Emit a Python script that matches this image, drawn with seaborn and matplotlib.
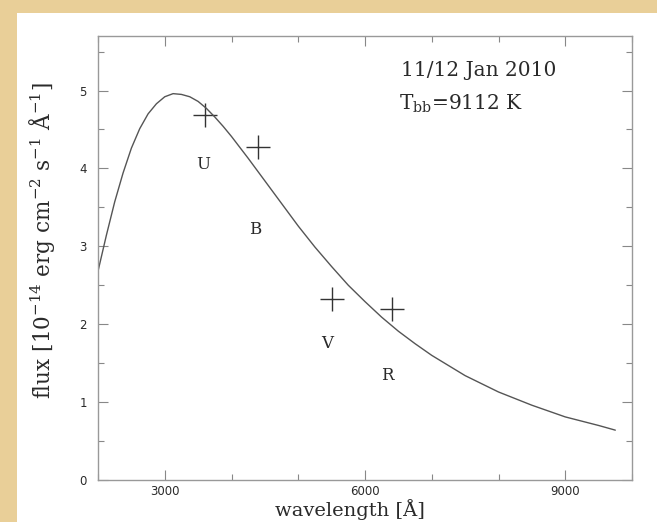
import matplotlib
import pandas as pd

matplotlib.use('Agg')
import matplotlib.pyplot as plt
import seaborn as sns
from matplotlib.patches import Rectangle
from matplotlib.ticker import MultipleLocator

# blackbody model curve
wavelength = [2000, 2125, 2250, 2375, 2500, 2625, 2750, 2875, 3000, 3125, 3250, 3375,
              3500, 3625, 3750, 3875, 4000, 4250, 4500, 4750, 5000, 5250, 5500, 5750,
              6000, 6250, 6500, 6750, 7000, 7500, 8000, 8500, 9000, 9500, 9750]
model_flux = [2.68, 3.14, 3.57, 3.94, 4.26, 4.51, 4.70, 4.83, 4.92, 4.96, 4.95, 4.92,
              4.86, 4.77, 4.66, 4.54, 4.41, 4.13, 3.84, 3.55, 3.26, 2.99, 2.74, 2.50,
              2.29, 2.09, 1.91, 1.75, 1.60, 1.34, 1.13, 0.96, 0.81, 0.70, 0.64]

# photometry points
bands = ["U", "B", "V", "R"]
band_wave = [3600, 4400, 5500, 6400]
band_flux = [4.69, 4.27, 2.33, 2.19]
label_wave = [3580, 4350, 5430, 6340]
label_flux = [4.05, 3.22, 1.75, 1.34]

sns.set_style("ticks")
plt.rcParams['mathtext.fontset'] = 'dejavuserif'

fig = plt.figure(figsize=(6.57, 5.22), dpi=100)
fig.patch.set_facecolor("#e9cf98")
fig.patches.append(Rectangle((17 / 657, 0), 1, 1 - 13 / 522, transform=fig.transFigure,
                             facecolor="white", edgecolor="none", zorder=-10))
ax = fig.add_axes([98 / 657, 1 - 480 / 522, (632 - 98) / 657, (480 - 36) / 522])
ax.set_facecolor("white")

curve = pd.DataFrame({"wavelength": wavelength, "flux": model_flux})
pts = pd.DataFrame({"wavelength": band_wave, "flux": band_flux})

sns.lineplot(data=curve, x="wavelength", y="flux", ax=ax, color="#555555", linewidth=1.0)
sns.scatterplot(data=pts, x="wavelength", y="flux", ax=ax, marker="+", s=300,
                color="#333333", linewidth=1.0)

txt = "#2a2a2a"
for b, xw, yf in zip(bands, label_wave, label_flux):
    ax.text(xw, yf, b, ha="center", va="center", fontsize=12, family="DejaVu Serif", color=txt)

ax.text(0.712, 0.923, "11/12 Jan 2010", transform=ax.transAxes, ha="center", va="center",
        fontsize=14.5, family="DejaVu Serif", color=txt)
ax.text(0.68, 0.847, r"T$_{\mathrm{bb}}$=9112 K", transform=ax.transAxes, ha="center", va="center",
        fontsize=14.5, family="DejaVu Serif", color=txt)

ax.set_xlim(2000, 10000)
ax.set_ylim(0, 5.7)
ax.xaxis.set_major_locator(MultipleLocator(3000))
ax.xaxis.set_minor_locator(MultipleLocator(1000))
ax.yaxis.set_major_locator(MultipleLocator(1))
ax.yaxis.set_minor_locator(MultipleLocator(0.5))
ax.tick_params(which="both", direction="in", top=True, right=True, color="#888888",
               labelsize=8.5, labelcolor=txt, width=0.8)
ax.tick_params(which="major", length=7)
ax.tick_params(which="minor", length=4)
ax.tick_params(axis="y", pad=8)
for s in ax.spines.values():
    s.set_color("#999999")
    s.set_linewidth(1.0)

ax.set_xlabel("wavelength [Å]", fontsize=14, family="DejaVu Serif", color=txt)
ax.set_ylabel(r"flux [10$^{-14}$ erg cm$^{-2}$ s$^{-1}$ Å$^{-1}$]", fontsize=15.5,
              family="DejaVu Serif", color=txt)
ax.xaxis.set_label_coords(0.472, -0.043)
ax.yaxis.set_label_coords(-0.077, 0.54)

fig.savefig("out.png", dpi=100, facecolor=fig.get_facecolor())
